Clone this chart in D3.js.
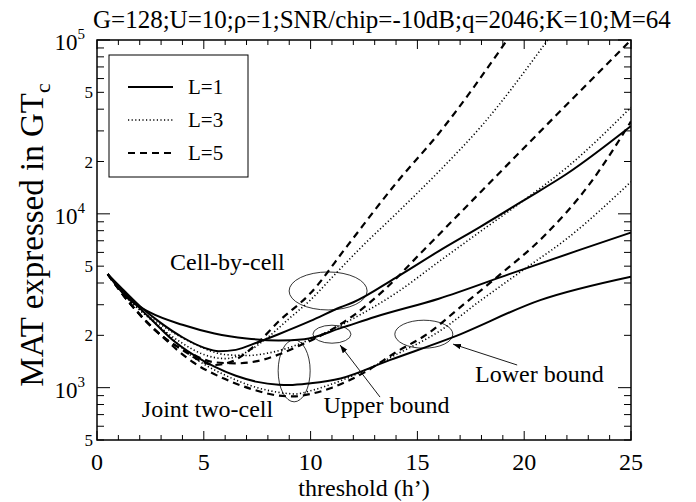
<!DOCTYPE html>
<html>
<head>
<meta charset="utf-8">
<script src="https://cdn.jsdelivr.net/npm/d3@7"></script>
<style>
  body { margin: 0; background: #fff; }
  text { font-family: "Liberation Serif", "Times New Roman", Times, serif; fill: #000; }
</style>
</head>
<body>
<svg id="chart" width="696" height="502"></svg>
<script>
// ---- data (threshold h', MAT in GTc) ----
const xTicks = [0, 5, 10, 15, 20, 25];
const yMajor = [1e3, 1e4, 1e5];
const yMinorLabels = [5e2, 2e3, 5e3, 2e4, 5e4];

// L=1 (solid)
const l1CellByCell = [[0.5,4500],[1,3900],[2,2950],[3,2350],[4,1950],[5,1700],[5.7,1620],[6.5,1650],[7.5,1820],[8.5,2030],[10,2420],[11.4,2900],[12,3100],[14,4300],[16,6100],[18,8500],[20,12000],[22,17000],[25,32000]];
const l1Upper = [[0.5,4500],[1.4,3300],[2.5,2700],[4,2300],[5.5,2050],[7,1920],[8.5,1870],[9.7,1900],[11.4,2200],[13,2550],[16,3250],[19.3,4500],[22.6,6200],[25,7800]];
const l1Lower = [[0.5,4500],[1.5,3300],[2.5,2500],[3.5,1900],[4.5,1550],[5.5,1320],[6.5,1170],[7.5,1080],[8.5,1040],[9,1035],[10,1060],[11.4,1130],[13.7,1440],[16.7,1960],[20.75,3190],[25,4350]];
// L=3 (dotted)
const l3CellByCell = [[0.5,4500],[1.5,3300],[3,2200],[4,1800],[5,1550],[6,1470],[7,1600],[8,1950],[9,2500],[10,3200],[11,4300],[12.3,6300],[14,10000],[16,17500],[18,32000],[21.1,100000]];
const l3Upper = [[0.5,4500],[1.5,3200],[3,2300],[4.5,1800],[6,1550],[7,1530],[8,1580],[9,1700],[10,1900],[11,2150],[12,2500],[14,3500],[16,5300],[18,8000],[20,12000],[22,18500],[25,41000]];
const l3Lower = [[0.5,4500],[1.5,3200],[3,2200],[4.5,1500],[6,1180],[7.5,1000],[8.5,940],[9.3,920],[10,960],[11,1050],[12.5,1250],[14,1550],[16,2100],[18,3200],[20,4800],[22,7200],[25,15300]];
// L=5 (dashed)
const l5CellByCell = [[0.5,4500],[1.5,3100],[3,2000],[4,1650],[5,1400],[5.5,1350],[6.5,1450],[7.5,1800],[8.5,2400],[10,3500],[11.7,6500],[14,15000],[16,29000],[19.2,100000]];
const l5Upper = [[0.5,4500],[1.5,3100],[3,2000],[4.5,1550],[5.5,1400],[6.5,1380],[7.5,1420],[8.5,1550],[9.5,1750],[10.5,2000],[12,2600],[13.5,3700],[15.3,6200],[18,13500],[21,32000],[25,100000]];
const l5Lower = [[0.5,4500],[1.5,3100],[3,2000],[4.5,1400],[6,1120],[7.5,960],[8.5,900],[9.2,890],[10,920],[11,1000],[12.5,1220],[14,1600],[15.5,2050],[17,2900],[18.7,4300],[21,7600],[23,14500],[25,34000]];

const legendLabels = ['L=1', 'L=3', 'L=5'];
const titleText = 'G=128;U=10;\u03c1=1;SNR/chip=-10dB;q=2046;K=10;M=64';

// ---- layout ----
const margin = {left: 97, top: 40, right: 65, bottom: 62};
const W = 696, H = 502;
const pw = W - margin.left - margin.right;
const ph = H - margin.top - margin.bottom;

const svg = d3.select('#chart');
const g = svg.append('g').attr('transform', `translate(${margin.left},${margin.top})`);

const x = d3.scaleLinear().domain([0, 25]).range([0, pw]);
const y = d3.scaleLog().domain([500, 1e5]).range([ph, 0]);

// styles per L
const styles = {
    solid: {w: 2, dash: null},
    dotted: {w: 1.6, dash: '1.2,2.4'},
    dashed: {w: 2.2, dash: '7,5'}
};

const series = [
    {d: l1CellByCell, s: 'solid'}, {d: l1Upper, s: 'solid'}, {d: l1Lower, s: 'solid'},
    {d: l3CellByCell, s: 'dotted'}, {d: l3Upper, s: 'dotted'}, {d: l3Lower, s: 'dotted'},
    {d: l5CellByCell, s: 'dashed'}, {d: l5Upper, s: 'dashed'}, {d: l5Lower, s: 'dashed'}
];

// clip
svg.append('defs').append('clipPath').attr('id', 'clip')
    .append('rect').attr('width', pw).attr('height', ph);

const line = d3.line()
    .x(d => x(d[0]))
    .y(d => y(d[1]))
    .curve(d3.curveMonotoneX);

g.append('g').attr('clip-path', 'url(#clip)')
    .selectAll('path')
    .data(series)
    .join('path')
    .attr('d', d => line(d.d))
    .attr('fill', 'none')
    .attr('stroke', '#000')
    .attr('stroke-width', d => styles[d.s].w)
    .attr('stroke-dasharray', d => styles[d.s].dash);

// ---- axes (ticks inward on all four sides) ----
const xMinor = d3.range(0, 26, 1);
const yMinor = [];
[100, 1000, 10000].forEach(dec => {
    for (let k = 1; k < 10; k++) {
        const v = dec * k;
        if (v >= 500 && v <= 1e5) yMinor.push(v);
    }
});
yMinor.push(1e5);

const axG = g.append('g').attr('stroke', '#000');
// x ticks bottom & top
xMinor.forEach(v => {
    const len = v % 5 === 0 ? 9 : 5;
    axG.append('line').attr('x1', x(v)).attr('x2', x(v)).attr('y1', ph).attr('y2', ph - len).attr('stroke-width', 1);
    axG.append('line').attr('x1', x(v)).attr('x2', x(v)).attr('y1', 0).attr('y2', len).attr('stroke-width', 1);
});
// y ticks left & right
yMinor.forEach(v => {
    const isMajor = Math.abs(Math.log10(v) - Math.round(Math.log10(v))) < 1e-9;
    const len = isMajor ? 13 : 7;
    axG.append('line').attr('x1', 0).attr('x2', len).attr('y1', y(v)).attr('y2', y(v)).attr('stroke-width', 1);
    axG.append('line').attr('x1', pw).attr('x2', pw - len).attr('y1', y(v)).attr('y2', y(v)).attr('stroke-width', 1);
});
// frame
g.append('rect').attr('width', pw).attr('height', ph)
    .attr('fill', 'none').attr('stroke', '#000').attr('stroke-width', 1.5);

// x tick labels
g.selectAll('.xl').data(xTicks).join('text')
    .attr('class', 'xl')
    .attr('x', d => x(d))
    .attr('y', ph + 30)
    .attr('text-anchor', 'middle')
    .attr('font-size', 24)
    .text(d => d);

// y major labels 10^n
const yl = g.selectAll('.yl').data(yMajor).join('text')
    .attr('class', 'yl')
    .attr('x', -12)
    .attr('y', d => y(d) + 10)
    .attr('text-anchor', 'end')
    .attr('font-size', 23);
yl.append('tspan').text('10');
yl.append('tspan').attr('font-size', 15).attr('dy', -11).text(d => Math.round(Math.log10(d)));

// y minor labels
g.selectAll('.ym').data(yMinorLabels).join('text')
    .attr('class', 'ym')
    .attr('x', -4)
    .attr('y', d => y(d) + 6)
    .attr('text-anchor', 'end')
    .attr('font-size', 17)
    .text(d => String(d)[0]);

// axis titles
svg.append('text')
    .attr('x', margin.left + pw / 2)
    .attr('y', 496)
    .attr('text-anchor', 'middle')
    .attr('font-size', 24)
    .text('threshold (h\u2019)');

const yt = svg.append('text')
    .attr('transform', `translate(43,${margin.top + ph / 2 - 5}) rotate(-90)`)
    .attr('text-anchor', 'middle')
    .attr('font-size', 33);
yt.append('tspan').text('MAT expressed in GT');
yt.append('tspan').attr('font-size', 22).attr('dy', 7).text('c');

// title
svg.append('text')
    .attr('x', 93)
    .attr('y', 28)
    .attr('font-size', 25)
    .text(titleText);

// ---- legend ----
const lg = g.append('g');
lg.append('rect')
    .attr('x', 109 - margin.left).attr('y', 55 - margin.top)
    .attr('width', 139).attr('height', 122)
    .attr('fill', '#fff').attr('stroke', '#000').attr('stroke-width', 1);
['solid', 'dotted', 'dashed'].forEach((s, i) => {
    const yy = 87 - margin.top + i * 33;
    lg.append('line')
        .attr('x1', 128 - margin.left).attr('x2', 173 - margin.left)
        .attr('y1', yy).attr('y2', yy)
        .attr('stroke', '#000')
        .attr('stroke-width', styles[s].w)
        .attr('stroke-dasharray', styles[s].dash);
    lg.append('text')
        .attr('x', 188 - margin.left).attr('y', yy + 7)
        .attr('font-size', 21)
        .text(legendLabels[i]);
});

// ---- annotations ----
const ellipses = [
    {cx: 10.82, cy: 3600, rx: 39, ry: 19},
    {cx: 9.23, cy: 1250, rx: 16, ry: 31},
    {cx: 11.0, cy: 2030, rx: 19, ry: 9},
    {cx: 15.3, cy: 2030, rx: 29, ry: 14}
];
g.selectAll('.ell').data(ellipses).join('ellipse')
    .attr('class', 'ell')
    .attr('cx', d => x(d.cx)).attr('cy', d => y(d.cy))
    .attr('rx', d => d.rx).attr('ry', d => d.ry)
    .attr('fill', 'none').attr('stroke', '#000').attr('stroke-width', 0.8);

const labels = [
    {t: 'Cell-by-cell', x: 3.42, v: 4750},
    {t: 'Joint two-cell', x: 2.1, v: 678},
    {t: 'Upper bound', x: 10.6, v: 714},
    {t: 'Lower bound', x: 17.7, v: 1080}
];
g.selectAll('.ann').data(labels).join('text')
    .attr('class', 'ann')
    .attr('x', d => x(d.x)).attr('y', d => y(d.v))
    .attr('font-size', 24)
    .text(d => d.t);

svg.select('defs').append('marker')
    .attr('id', 'arr').attr('viewBox', '0 0 10 10')
    .attr('refX', 10).attr('refY', 5)
    .attr('markerWidth', 9).attr('markerHeight', 9)
    .attr('orient', 'auto-start-reverse')
    .append('path').attr('d', 'M0,1.5 L10,5 L0,8.5 z').attr('fill', '#000');

const arrows = [
    {x1: 13.25, v1: 883, x2: 11.38, v2: 1760},
    {x1: 19.67, v1: 1350, x2: 16.67, v2: 1780}
];
g.selectAll('.arw').data(arrows).join('line')
    .attr('class', 'arw')
    .attr('x1', d => x(d.x1)).attr('y1', d => y(d.v1))
    .attr('x2', d => x(d.x2)).attr('y2', d => y(d.v2))
    .attr('stroke', '#000').attr('stroke-width', 0.9)
    .attr('marker-end', 'url(#arr)');
</script>
</body>
</html>
